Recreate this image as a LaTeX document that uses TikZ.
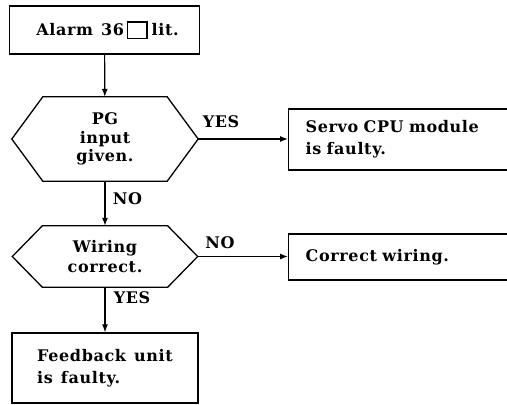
\documentclass[tikz,border=0pt]{standalone}
\usepackage{fontspec}
\newfontfamily\typefont[LetterSpace=4,WordSpace=1.3]{DejaVu Serif}
\usetikzlibrary{arrows.meta}
% hexagonal decision outline drawn round a named node
\newcommand\drawhex[2]{%
  \draw[line width=1.3bp] (#1.west) -- ([xshift=#2]#1.north west)
    -- ([xshift=-#2]#1.north east) -- (#1.east)
    -- ([xshift=-#2]#1.south east) -- ([xshift=#2]#1.south west) -- cycle;}
\begin{document}
\begin{tikzpicture}[x=1bp,y=-1bp,
  txt/.style={font=\typefont\bfseries\fontsize{16bp}{22bp}\selectfont},
  box/.style={txt, draw, line width=1.3bp, inner sep=0pt, align=left},
  openbox/.style={box, anchor=west, text width=208bp, inner xsep=17bp},
  decision/.style={txt, inner sep=0pt, align=center},
  conn/.style={line width=1.2bp, -{Latex[length=8bp,width=6bp]}},
  tag/.style={txt, inner sep=0pt}]
\useasboundingbox (0,0) rectangle (507,404);
\clip (0,0) rectangle (507,404);

% process boxes
\node[box, minimum width=190bp, minimum height=48bp] (alarm) at (104.5,30)
  {\hspace{6bp}Alarm 36\hspace{3bp}{\fboxsep=0pt\fboxrule=1.3bp\raisebox{-2bp}{\fbox{\rule{0pt}{15bp}\hspace{18bp}}}}\hspace{4bp}lit.};
\node[openbox, minimum height=61bp] (servo) at (288,139.5)
  {Servo CPU module\\is faulty.};
\node[openbox, minimum height=46bp] (fix) at (288,257)
  {Correct wiring.};
\node[box, minimum width=186bp, minimum height=70bp] (feedback) at (105,368)
  {Feedback unit\\is faulty.};

% decisions
\node[decision, minimum width=186bp, minimum height=84bp,
  font=\typefont\bfseries\fontsize{16bp}{18.5bp}\selectfont] (pg) at (105,139)
  {PG\\input\\given.};
\drawhex{pg}{31bp}
\node[decision, minimum width=185bp, minimum height=61bp,
  font=\typefont\bfseries\fontsize{16bp}{20.5bp}\selectfont] (wiring) at (105,256.5)
  {Wiring\\correct.};
\drawhex{wiring}{30bp}

% connectors
\draw[conn] (alarm) -- (pg);
\draw[conn] (pg) -- (wiring);
\draw[conn] (wiring) -- (feedback);
\draw[conn] (pg.east) -- (pg.east -| servo.west);
\draw[conn] (wiring.east) -- (wiring.east -| fix.west);

% branch labels
\node[tag] (pgyes) at (221,122) {YES};
\node[tag] (pgno) at (127.5,199) {NO};
\node[tag] (wno) at (220,243) {NO};
\node[tag] (wyes) at (132,298) {YES};
\end{tikzpicture}
\end{document}
